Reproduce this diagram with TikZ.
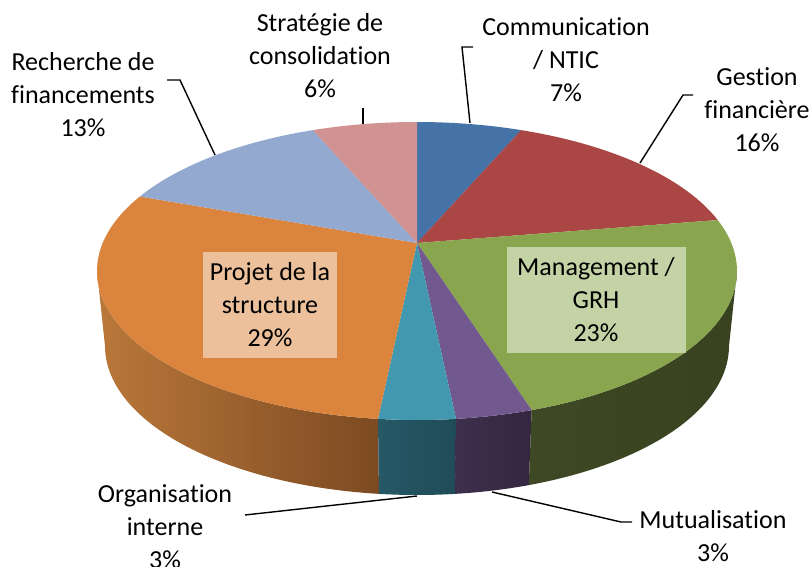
\documentclass[tikz,border=0pt]{standalone}
\usepackage{fontspec}
\setmainfont{Carlito}[Ligatures={NoCommon}]
\begin{document}
\begin{tikzpicture}[x=1pt,y=-1pt,
  lbl/.style={align=center,inner sep=0pt,font=\fontsize{26}{33}\selectfont},
  boxlbl/.style={align=center,inner sep=0pt,font=\fontsize{26}{33}\selectfont},
  leader/.style={draw=black,line width=1.4pt}]
\definecolor{cblue}{HTML}{4572A7}
\definecolor{cred}{HTML}{AA4643}
\definecolor{cgreen}{HTML}{89A54E}
\definecolor{cpurple}{HTML}{71588F}
\definecolor{cteal}{HTML}{4198AF}
\definecolor{corange}{HTML}{DB843D}
\definecolor{clblue}{HTML}{93A9CF}
\definecolor{cpink}{HTML}{D19392}
\definecolor{sorangeL}{RGB}{186,120,58}
\definecolor{sorangeR}{RGB}{124,74,34}
\definecolor{stealL}{RGB}{38,88,102}
\definecolor{stealR}{RGB}{32,76,88}
\definecolor{spurpL}{RGB}{62,47,76}
\definecolor{spurpR}{RGB}{52,38,64}
\definecolor{sgreenL}{RGB}{62,72,36}
\definecolor{sgreenR}{RGB}{56,66,32}
\definecolor{boxorange}{RGB}{235,192,155}
\definecolor{boxgreen}{RGB}{196,211,165}
\useasboundingbox (0,0) rectangle (812,567);
\fill[white] (0,0) rectangle (812,567);
% top ellipse: centre (417,271), rx 320, ry 149 ; bottom: centre (417,346), rx 312
\def\topx#1{417+320*cos(#1)}
\def\topy#1{271-149*sin(#1)}
\def\botx#1{417+312*cos(#1)}
\def\boty#1{346-149*sin(#1)}
% side pieces
\shade[left color=sorangeL,right color=sorangeR]
  plot[domain=-180:-97,samples=60,variable=\t] ({\topx{\t}},{\topy{\t}})
  -- plot[domain=-97:-180,samples=60,variable=\t] ({\botx{\t}},{\boty{\t}}) -- cycle;
\shade[left color=stealL,right color=stealR]
  plot[domain=-97:-83,samples=20,variable=\t] ({\topx{\t}},{\topy{\t}})
  -- plot[domain=-83:-97,samples=20,variable=\t] ({\botx{\t}},{\boty{\t}}) -- cycle;
\shade[left color=spurpL,right color=spurpR]
  plot[domain=-83:-69,samples=20,variable=\t] ({\topx{\t}},{\topy{\t}})
  -- plot[domain=-69:-83,samples=20,variable=\t] ({\botx{\t}},{\boty{\t}}) -- cycle;
\shade[left color=sgreenL,right color=sgreenR]
  plot[domain=-69:0,samples=50,variable=\t] ({\topx{\t}},{\topy{\t}})
  -- plot[domain=0:-69,samples=50,variable=\t] ({\botx{\t}},{\boty{\t}}) -- cycle;
% top face slices, apex (417,243)
\coordinate (apex) at (417,243);
\fill[cblue]   (apex) -- plot[domain=90:71,samples=20,variable=\t] ({\topx{\t}},{\topy{\t}}) -- cycle;
\fill[cred]    (apex) -- plot[domain=71:20,samples=40,variable=\t] ({\topx{\t}},{\topy{\t}}) -- cycle;
\fill[cgreen]  (apex) -- plot[domain=20:-69,samples=60,variable=\t] ({\topx{\t}},{\topy{\t}}) -- cycle;
\fill[cpurple] (apex) -- plot[domain=-69:-83,samples=20,variable=\t] ({\topx{\t}},{\topy{\t}}) -- cycle;
\fill[cteal]   (apex) -- plot[domain=-83:-97,samples=20,variable=\t] ({\topx{\t}},{\topy{\t}}) -- cycle;
\fill[corange] (apex) -- plot[domain=-97:-210,samples=80,variable=\t] ({\topx{\t}},{\topy{\t}}) -- cycle;
\fill[clblue]  (apex) -- plot[domain=150:109,samples=30,variable=\t] ({\topx{\t}},{\topy{\t}}) -- cycle;
\fill[cpink]   (apex) -- plot[domain=109:90,samples=20,variable=\t] ({\topx{\t}},{\topy{\t}}) -- cycle;
% in-slice labels
\fill[boxorange] (203,252) rectangle (337,358);
\node[boxlbl] (projet) at (270,305) {Projet de la\\structure\\29\%};
\fill[boxgreen] (507,247) rectangle (686,353);
\node[boxlbl] (mgmt) at (596,300) {Management /\\GRH\\23\%};
% outside labels
\node[lbl] (rech) at (83,95) {Recherche de\\financements\\13\%};
\node[lbl] (strat) at (320,56) {Stratégie de\\consolidation\\6\%};
\node[lbl] (comm) at (566,60) {Communication\\/ NTIC\\7\%};
\node[lbl] (gest) at (757,110) {Gestion\\financière\\16\%};
\node[lbl] (orga) at (165,527) {Organisation\\interne\\3\%};
\node[lbl] (mutu) at (713,536) {Mutualisation\\3\%};
% leader points
\coordinate (r1) at (167,80); \coordinate (r2) at (180,80); \coordinate (r3) at (215,155);
\coordinate (s1) at (363,108); \coordinate (s2) at (363,124);
\coordinate (c1) at (473,47); \coordinate (c2) at (462,47); \coordinate (c3) at (470,123);
\coordinate (g1) at (693,95); \coordinate (g2) at (683,95); \coordinate (g3) at (640,163);
\coordinate (o1) at (245,515); \coordinate (o2) at (417,496);
\coordinate (m1) at (492,492); \coordinate (m2) at (621,522); \coordinate (m3) at (632,522);
\draw[leader] (r1) -- (r2) -- (r3);
\draw[leader] (s1) -- (s2);
\draw[leader] (c1) -- (c2) -- (c3);
\draw[leader] (g1) -- (g2) -- (g3);
\draw[leader] (o1) -- (o2);
\draw[leader] (m1) -- (m2) -- (m3);
\end{tikzpicture}
\end{document}
